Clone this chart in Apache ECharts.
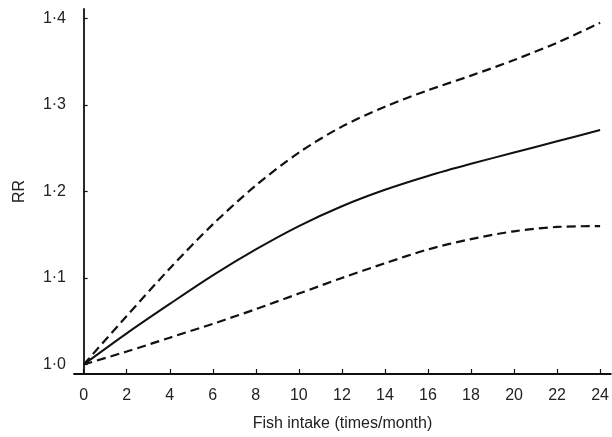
<!DOCTYPE html>
<html>
<head>
<meta charset="utf-8">
<script src="https://cdn.jsdelivr.net/npm/echarts@6/dist/echarts.min.js"></script>
<style>html,body{margin:0;padding:0;background:#fff;}#c{width:612px;height:437px;}</style>
</head>
<body>
<div id="c"></div>
<script>
var xValues = [0, 2, 4, 6, 8, 10, 12, 14, 16, 18, 20, 22, 24];
var rrEstimate = [1.000, 1.036, 1.070, 1.103, 1.133, 1.160, 1.183, 1.202, 1.218, 1.232, 1.245, 1.258, 1.271];
var rrUpper    = [1.000, 1.056, 1.111, 1.162, 1.207, 1.245, 1.275, 1.298, 1.317, 1.334, 1.352, 1.372, 1.395];
var rrLower    = [1.000, 1.015, 1.031, 1.047, 1.064, 1.082, 1.100, 1.117, 1.133, 1.145, 1.154, 1.159, 1.160];
var xTicks = [0, 2, 4, 6, 8, 10, 12, 14, 16, 18, 20, 22, 24];
var yTicks = [1.0, 1.1, 1.2, 1.3, 1.4];
var yTickLabels = ['1·0', '1·1', '1·2', '1·3', '1·4'];

function pairs(ys) { return xValues.map(function (x, i) { return [x, ys[i]]; }); }

var chart = echarts.init(document.getElementById('c'), null, {renderer: 'canvas'});
var font = 'Liberation Sans, Arial, sans-serif';
chart.setOption({
  animation: false,
  backgroundColor: '#fff',
  grid: {left: 74, right: 0, top: 9, bottom: 58, containLabel: false},
  xAxis: {
    type: 'value', min: -0.45, max: 24.5,
    name: 'Fish intake (times/month)', nameLocation: 'middle', nameGap: 42,
    nameTextStyle: {fontFamily: font, fontSize: 16, color: '#222'},
    axisLine: {show: true, lineStyle: {color: '#111', width: 1.8}},
    axisTick: {show: true, inside: true, length: 5, customValues: xTicks, lineStyle: {color: '#111', width: 1.2}},
    axisLabel: {customValues: xTicks, fontFamily: font, fontSize: 16, color: '#222', margin: 14},
    splitLine: {show: false}
  },
  yAxis: {
    type: 'value', min: 0.989, max: 1.411,
    name: 'RR', nameLocation: 'middle', nameGap: 46, nameRotate: 90,
    nameTextStyle: {fontFamily: font, fontSize: 16, color: '#222'},
    axisLine: {show: true, lineStyle: {color: '#111', width: 1.8}},
    axisTick: {show: true, inside: true, length: 4, customValues: yTicks, lineStyle: {color: '#111', width: 1.2}},
    axisLabel: {customValues: yTicks, fontFamily: font, fontSize: 16, color: '#222', margin: 8,
      formatter: function (v) { var i = yTicks.findIndex(function (t) { return Math.abs(t - v) < 1e-6; }); return i >= 0 ? yTickLabels[i] : ''; }},
    splitLine: {show: false}
  },
  series: [
    {type: 'line', data: pairs(rrUpper), smooth: 0.3, showSymbol: false,
      lineStyle: {color: '#111', width: 2.2, type: [9, 5]}},
    {type: 'line', data: pairs(rrEstimate), smooth: 0.3, showSymbol: false,
      lineStyle: {color: '#111', width: 2}},
    {type: 'line', data: pairs(rrLower), smooth: 0.3, showSymbol: false,
      lineStyle: {color: '#111', width: 2.2, type: [9, 5]}}
  ]
});
</script>
</body>
</html>
